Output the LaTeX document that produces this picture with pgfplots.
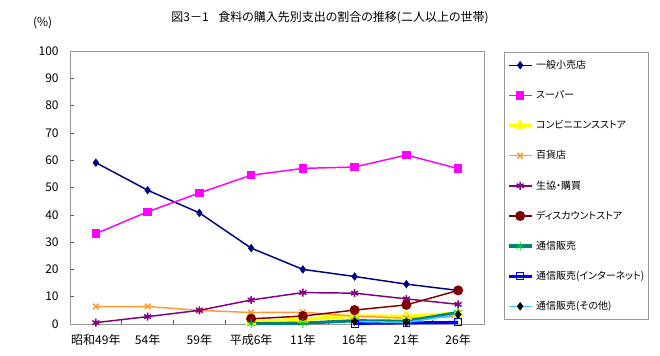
\documentclass[border=0pt]{standalone}
\usepackage{fontspec}
\setmainfont{Noto Sans CJK JP}[RawFeature=+palt]
\usepackage{pgfplots}
\pgfplotsset{compat=1.18}
\definecolor{cNavy}{RGB}{0,0,128}
\definecolor{cMag}{RGB}{255,0,255}
\definecolor{cYel}{RGB}{255,255,0}
\definecolor{cOra}{RGB}{255,153,51}
\definecolor{cPur}{RGB}{128,0,128}
\definecolor{cDred}{RGB}{128,0,0}
\definecolor{cTeal}{RGB}{0,128,128}
\definecolor{cBlue}{RGB}{0,0,255}
\definecolor{cCyan}{RGB}{51,204,255}
\begin{document}
\begin{tikzpicture}
\path[fill=white] (0,0) rectangle (495pt,267pt);
\node[font=\fontsize{9}{10}\selectfont] at (247.5pt,253.5pt) {図3－1\hspace{0.8em}食料の購入先別支出の割合の推移(二人以上の世帯)};
\node[font=\fontsize{9}{10}\selectfont] at (32pt,250pt) {(\%)};
\begin{axis}[
  at={(52.5pt,24pt)}, anchor=south west,
  scale only axis, width=310.5pt, height=204.75pt,
  xmin=-0.5, xmax=7.5, ymin=0, ymax=100,
  ytick={0,10,...,100},
  xtick={0,...,7},
  xticklabels={昭和49年,54年,59年,平成6年,11年,16年,21年,26年},
  minor xtick={0.5,1.5,...,6.5},
  tick align=inside, tick pos=left,
  major x tick style={draw=none},
  major tick length=3pt, minor tick length=3pt,
  every tick/.style={gray!70!black},
  axis line style={gray!80},
  /pgf/number format/assume math mode=true,
  tick label style={font=\fontsize{9}{10}\selectfont},
  yticklabel style={xshift=-5pt},
  xticklabel style={yshift=-4.5pt},
  clip=false,
  legend style={at={(1.0483,0.9963)}, anchor=north west, draw=gray!80,
    font=\fontsize{7.5}{8}\selectfont, row sep=3.1pt, inner xsep=2pt, inner ysep=0pt,
    nodes={minimum height=19.5pt, inner ysep=0pt, text width=80pt, align=left}},
  legend cell align=left,
]
\addplot[cNavy, line width=1.1pt, mark=diamond*, mark size=2.3pt] coordinates {(0,59.1)(1,49.0)(2,40.7)(3,27.8)(4,20.0)(5,17.4)(6,14.6)(7,12.3)};
\addlegendentry{一般小売店}
\addplot[cMag, line width=1.1pt, mark=square*, mark size=2.6pt] coordinates {(0,33.1)(1,41.1)(2,48.0)(3,54.5)(4,57.0)(5,57.5)(6,61.9)(7,56.9)};
\addlegendentry{スーパー}
\addplot[cYel, line width=2.8pt, mark=triangle*, mark size=2pt] coordinates {(3,0.8)(4,1.7)(5,2.9)(6,2.7)(7,3.9)};
\addlegendentry{コンビニエンスストア}
\addplot[cOra, line width=1.1pt, mark=x, mark size=3pt] coordinates {(0,6.4)(1,6.4)(2,5.0)(3,4.2)(4,4.3)(5,2.9)(6,2.1)(7,2.7)};
\addlegendentry{百貨店}
\addplot[cPur, line width=1.1pt, mark=asterisk, mark size=3pt] coordinates {(0,0.5)(1,2.7)(2,5.0)(3,8.8)(4,11.5)(5,11.3)(6,9.2)(7,7.2)};
\addlegendentry{生協・購買}
\addplot[cDred, line width=1.1pt, mark=*, mark size=3.2pt] coordinates {(3,1.9)(4,2.9)(5,5.1)(6,7.0)(7,12.3)};
\addlegendentry{ディスカウントストア}
\addplot[cTeal, line width=2.4pt, mark=asterisk, mark size=3.5pt, mark options={draw=green!60!teal, line width=0.6pt}] coordinates {(3,0.1)(4,0.3)(5,1.2)(6,1.0)(7,4.2)};
\addlegendentry{通信販売}
\addplot[cBlue, line width=2.2pt, mark=square, mark size=2.6pt, mark options={draw=cBlue, fill=white, line width=0.6pt}] coordinates {(5,0.2)(6,0.4)(7,0.6)};
\addlegendentry{通信販売(インターネット)}
\addplot[cCyan, line width=1.2pt, mark=diamond*, mark size=2.3pt, mark options={draw=black, fill=black}] coordinates {(5,0.9)(6,0.6)(7,3.5)};
\addlegendentry{通信販売(その他)}
\end{axis}
\end{tikzpicture}
\end{document}
